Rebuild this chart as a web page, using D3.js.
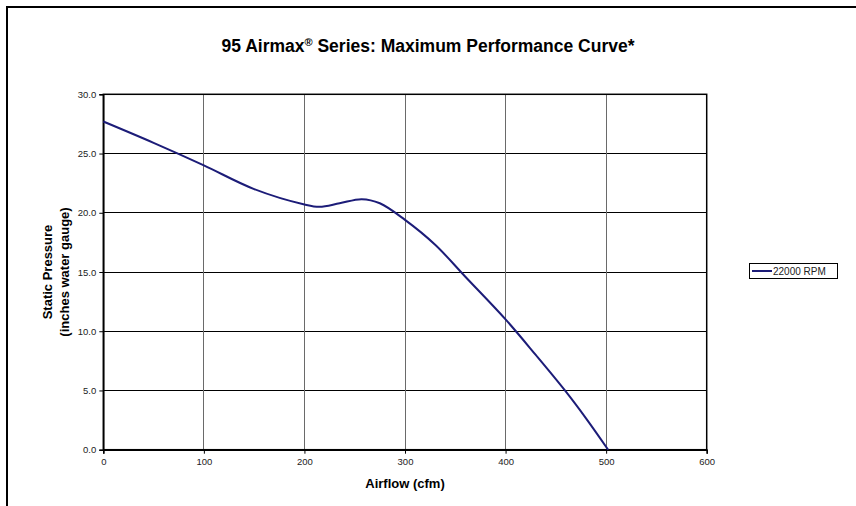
<!DOCTYPE html>
<html><head><meta charset="utf-8">
<script src="https://cdn.jsdelivr.net/npm/d3@7"></script>
<style>body{margin:0;background:#fff;} svg{display:block;font-family:"Liberation Sans",Arial,sans-serif;}</style>
</head><body><svg id="c" width="856" height="506"></svg>
<script>
const airflow = [0, 50, 100, 150, 200, 215, 235, 257, 275, 300, 330, 360, 400, 430, 460, 480, 502];
const pressure = [27.7, 25.9, 24.0, 22.0, 20.7, 20.5, 20.8, 21.15, 20.8, 19.4, 17.3, 14.6, 11.0, 8.0, 4.9, 2.65, 0.0];
const seriesName = "22000 RPM";
const xTicks = [0, 100, 200, 300, 400, 500, 600];
const yTicks = [0, 5, 10, 15, 20, 25, 30];

const svg = d3.select("#c");
const W = 856, H = 506;
const m = {left: 103.3, right: 706.7, top: 94.3, bottom: 449.7};
const x = d3.scaleLinear().domain([0, 600]).range([m.left, m.right]);
const y = d3.scaleLinear().domain([0, 30]).range([m.bottom, m.top]);

// outer frame
svg.append("rect").attr("x", 7).attr("y", 7).attr("width", 900).attr("height", 600)
  .attr("fill", "none").attr("stroke", "#000").attr("stroke-width", 2);

// gridlines
svg.append("g").selectAll("line").data(yTicks).join("line")
  .attr("x1", m.left).attr("x2", m.right).attr("y1", d => y(d)).attr("y2", d => y(d))
  .attr("stroke", "#000").attr("stroke-width", 1).attr("shape-rendering", "crispEdges");
svg.append("g").selectAll("line").data(xTicks).join("line")
  .attr("y1", m.top).attr("y2", m.bottom).attr("x1", d => x(d)).attr("x2", d => x(d))
  .attr("stroke", "#6a6a6a").attr("stroke-width", 1).attr("shape-rendering", "crispEdges");

// plot border
svg.append("rect").attr("x", m.left).attr("y", m.top).attr("width", m.right - m.left).attr("height", m.bottom - m.top)
  .attr("fill", "none").attr("stroke", "#000").attr("stroke-width", 1.5);

// axes
const xAxis = d3.axisBottom(x).tickValues(xTicks).tickSize(4).tickPadding(5).tickFormat(d3.format("d"));
const yAxis = d3.axisLeft(y).tickValues(yTicks).tickSize(4).tickPadding(3).tickFormat(d3.format(".1f"));
const gx = svg.append("g").attr("transform", `translate(0,${m.bottom})`).call(xAxis);
const gy = svg.append("g").attr("transform", `translate(${m.left},0)`).call(yAxis);
[gx, gy].forEach(g => {
  g.select(".domain").attr("stroke", "#000").attr("stroke-width", 1.5);
  g.selectAll(".tick line").attr("stroke", "#000");
  g.selectAll(".tick text").attr("fill", "#222").style("font-size", "9.5px").style("font-family", '"Liberation Sans",Arial,sans-serif');
});

// line
const pts = airflow.map((a, i) => [a, pressure[i]]);
const line = d3.line().x(d => x(d[0])).y(d => y(d[1])).curve(d3.curveCatmullRom.alpha(0.5));
svg.append("path").datum(pts).attr("d", line).attr("fill", "none")
  .attr("stroke", "#1c1c78").attr("stroke-width", 2);

// title
const t = svg.append("text").attr("x", W / 2).attr("y", 52).attr("text-anchor", "middle")
  .style("font-size", "17.5px").style("font-weight", "bold").attr("fill", "#000");
t.append("tspan").text("95 Airmax");
t.append("tspan").text("®").attr("dy", -6).style("font-size", "11px");
t.append("tspan").text(" Series: Maximum Performance Curve*").attr("dy", 6);

// axis titles
svg.append("text").attr("x", (m.left + m.right) / 2).attr("y", 488).attr("text-anchor", "middle")
  .style("font-size", "13px").style("font-weight", "bold").text("Airflow (cfm)");
const yt = svg.append("text").attr("transform", `translate(52,${(m.top + m.bottom) / 2}) rotate(-90)`)
  .attr("text-anchor", "middle").style("font-size", "13px").style("font-weight", "bold");
yt.append("tspan").attr("x", 0).attr("dy", 0).text("Static Pressure");
yt.append("tspan").attr("x", 0).attr("dy", 17).text("(inches water gauge)");

// legend
const lg = svg.append("g");
lg.append("rect").attr("x", 749.5).attr("y", 263.5).attr("width", 88).attr("height", 15)
  .attr("fill", "#fff").attr("stroke", "#000").attr("stroke-width", 1);
lg.append("line").attr("x1", 752).attr("x2", 772).attr("y1", 271).attr("y2", 271)
  .attr("stroke", "#1c1c78").attr("stroke-width", 2);
lg.append("text").attr("x", 773).attr("y", 274.5).style("font-size", "10px").attr("fill", "#222").text(seriesName);
</script></body></html>
